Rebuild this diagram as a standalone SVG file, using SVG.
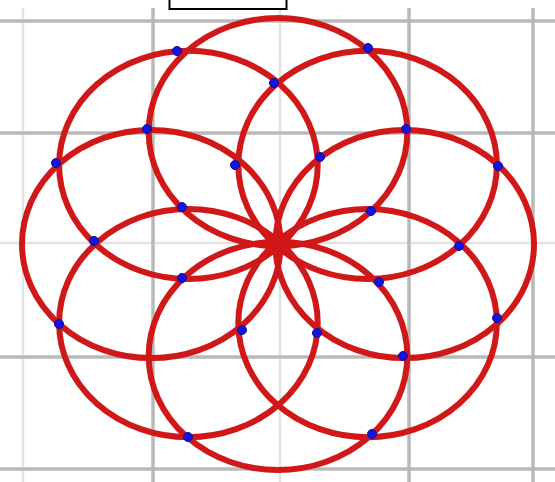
<svg xmlns="http://www.w3.org/2000/svg" width="555" height="482" viewBox="0 0 555 482">
<style>
.g{stroke:#b9b9b9;stroke-width:3.5;fill:none}
.gf{stroke:#e2e2e2;stroke-width:2.5;fill:none}
.c{fill:none;stroke:#d01818;stroke-width:6}
.d{fill:#1414dc;stroke:#0a0aa8;stroke-width:1}
</style>
<rect x="0" y="0" width="555" height="482" fill="#ffffff"/>
<g id="grid">
<line class="gf" x1="23" y1="8" x2="23" y2="482"/>
<line class="gf" x1="280" y1="8" x2="280" y2="482"/>
<line class="gf" x1="0" y1="243" x2="555" y2="243"/>
<line class="g" x1="153" y1="8" x2="153" y2="482"/>
<line class="g" x1="409" y1="8" x2="409" y2="482"/>
<line class="g" x1="533" y1="8" x2="533" y2="482"/>
<line class="g" x1="0" y1="21" x2="555" y2="21"/>
<line class="g" x1="0" y1="133" x2="555" y2="133"/>
<line class="g" x1="0" y1="357" x2="555" y2="357"/>
<line class="g" x1="0" y1="469" x2="555" y2="469"/>
</g>
<g id="box">
<rect x="169.5" y="-3" width="117" height="12" fill="#ffffff" stroke="#000000" stroke-width="2"/>
</g>
<g id="rosette">
<ellipse class="c" cx="404.7" cy="244" rx="129.3" ry="114.1"/>
<ellipse class="c" cx="367.6" cy="164.9" rx="129.3" ry="114.1"/>
<ellipse class="c" cx="278" cy="132.1" rx="129.3" ry="114.1"/>
<ellipse class="c" cx="188.4" cy="164.9" rx="129.3" ry="114.1"/>
<ellipse class="c" cx="151.3" cy="244" rx="129.3" ry="114.1"/>
<ellipse class="c" cx="188.4" cy="323.1" rx="129.3" ry="114.1"/>
<ellipse class="c" cx="278" cy="355.9" rx="129.3" ry="114.1"/>
<ellipse class="c" cx="367.6" cy="323.1" rx="129.3" ry="114.1"/>
</g>
<g id="points">
<circle class="d" cx="177" cy="51" r="4.5"/>
<circle class="d" cx="368" cy="48" r="4.5"/>
<circle class="d" cx="274" cy="83" r="4.5"/>
<circle class="d" cx="147" cy="129" r="4.5"/>
<circle class="d" cx="406" cy="129" r="4.5"/>
<circle class="d" cx="56" cy="163" r="4.5"/>
<circle class="d" cx="235" cy="165" r="4.5"/>
<circle class="d" cx="320" cy="157" r="4.5"/>
<circle class="d" cx="498" cy="166" r="4.5"/>
<circle class="d" cx="182" cy="207" r="4.5"/>
<circle class="d" cx="371" cy="211" r="4.5"/>
<circle class="d" cx="94" cy="241" r="4.5"/>
<circle class="d" cx="459" cy="246" r="4.5"/>
<circle class="d" cx="182" cy="278" r="4.5"/>
<circle class="d" cx="379" cy="282" r="4.5"/>
<circle class="d" cx="59" cy="324" r="4.5"/>
<circle class="d" cx="242" cy="330" r="4.5"/>
<circle class="d" cx="317" cy="333" r="4.5"/>
<circle class="d" cx="497" cy="318" r="4.5"/>
<circle class="d" cx="403" cy="356" r="4.5"/>
<circle class="d" cx="188" cy="437" r="4.5"/>
<circle class="d" cx="372" cy="434" r="4.5"/>
</g>
</svg>
